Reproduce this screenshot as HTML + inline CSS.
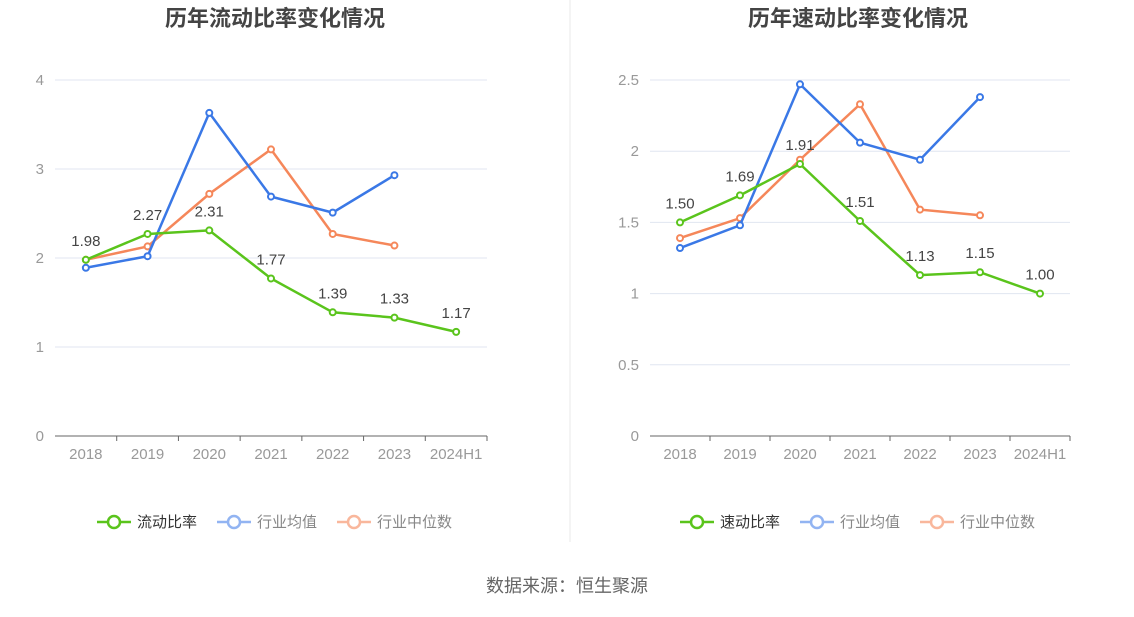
<!DOCTYPE html>
<html><head><meta charset="utf-8">
<style>
body{margin:0;background:#fff;width:1134px;height:612px;overflow:hidden;font-family:"Liberation Sans","Noto Sans CJK SC",sans-serif;}
svg text{font-family:"Liberation Sans","Noto Sans CJK SC",sans-serif;}
</style></head>
<body>
<svg id="chart" width="1134" height="612">
<line x1="570" y1="0" x2="570" y2="542" stroke="#e8e8e8"/>
<text x="567" y="592" font-size="18" fill="#666" text-anchor="middle">数据来源：恒生聚源</text>
</svg>
<script>
const categories=["2018","2019","2020","2021","2022","2023","2024H1"];
const currentRatio=[1.98,2.27,2.31,1.77,1.39,1.33,1.17];
const currentAvg=[1.89,2.02,3.63,2.69,2.51,2.93];
const currentMedian=[1.98,2.13,2.72,3.22,2.27,2.14];
const quickRatio=[1.50,1.69,1.91,1.51,1.13,1.15,1.00];
const quickAvg=[1.32,1.48,2.47,2.06,1.94,2.38];
const quickMedian=[1.39,1.53,1.94,2.33,1.59,1.55];
const leftTicks=[0,1,2,3,4];
const rightTicks=[0,0.5,1,1.5,2,2.5];
const rightTickLabels=["0","0.5","1","1.5","2","2.5"];
const NS="http://www.w3.org/2000/svg";
const svg=document.getElementById('chart');
function mk(tag,attrs,parent){const e=document.createElementNS(NS,tag);for(const k in attrs)e.setAttribute(k,attrs[k]);(parent||svg).appendChild(e);return e;}
function drawChart(cfg){
  const g=mk('g',{});
  
  
  const x0=cfg.x0,x1=cfg.x1,yb=436,yt=80;
  const step=(x1-x0)/categories.length;
  const xs=i=>x0+step*(i+0.5);
  const ys=v=>yb-(v/cfg.max)*(yb-yt);
  const t=mk('text',{x:cfg.titleX,y:26,'font-size':22,'font-weight':'bold',fill:'#444','text-anchor':'middle'},g);
  t.textContent=cfg.title;
  
  
  cfg.ticks.forEach((v,i)=>{
    if(v>0){const l=mk('line',{x1:x0,x2:x1,y1:ys(v),y2:ys(v),stroke:'#e0e6f1'},g);
      
      }
    const tx=mk('text',{x:x0-11,y:ys(v)+5,'font-size':15,fill:'#999','text-anchor':'end'},g);
    tx.textContent=cfg.tickLabels[i];
    
    
  });
  const ax=mk('line',{x1:x0,x2:x1,y1:yb,y2:yb,stroke:'#666'},g);
  
  
  categories.forEach((c,i)=>{
    const tk=mk('line',{x1:x0+step*(i+1),x2:x0+step*(i+1),y1:yb,y2:yb+5,stroke:'#666'},g);
    
    
    const tx=mk('text',{x:xs(i),y:459,'font-size':15,fill:'#999','text-anchor':'middle'},g);
    tx.textContent=c;
    
    
  });
  const series=[[cfg.median,'#f5875a','industry-median-line'],[cfg.avg,'#3a78e6','industry-average-line'],[cfg.main,'#5ac41c','main-ratio-line']];
  series.forEach(([d,col,nm],si)=>{
    const p=mk('polyline',{points:d.map((v,i)=>xs(i)+','+ys(v)).join(' '),fill:'none',stroke:col,'stroke-width':2.5},g);
    
    
    d.forEach((v,i)=>{
      const c=mk('circle',{cx:xs(i),cy:ys(v),r:3,fill:'#fff',stroke:col,'stroke-width':2},g);
      
      
      if(si===2){
        const lb=mk('text',{x:xs(i),y:ys(v)-14,'font-size':15,fill:'#444','text-anchor':'middle'},g);
        lb.textContent=v.toFixed(2);
        
        
      }
    });
  });
  const leg=[[cfg.mainName,'#5ac41c','#333'],['行业均值','#92b4f2','#888'],['行业中位数','#f9b79c','#888']];
  let lx=cfg.legendX;
  leg.forEach(([n,col,tc],i)=>{
    const lg=mk('g',{},g);
    
    
    mk('line',{x1:lx,x2:lx+34,y1:522,y2:522,stroke:col,'stroke-width':2.5},lg);
    mk('circle',{cx:lx+17,cy:522,r:6,fill:'#fff',stroke:col,'stroke-width':2.5},lg);
    const tx=mk('text',{x:lx+40,y:527,'font-size':15,fill:tc},lg);
    tx.textContent=n;
    lx+=120;
  });
}
drawChart({name:'current-ratio-chart',title:'历年流动比率变化情况',titleX:275,x0:55,x1:487,max:4,ticks:leftTicks,tickLabels:leftTicks.map(String),main:currentRatio,avg:currentAvg,median:currentMedian,mainName:'流动比率',legendX:97});
drawChart({name:'quick-ratio-chart',title:'历年速动比率变化情况',titleX:858,x0:650,x1:1070,max:2.5,ticks:rightTicks,tickLabels:rightTickLabels,main:quickRatio,avg:quickAvg,median:quickMedian,mainName:'速动比率',legendX:680});
</script>
</body></html>
